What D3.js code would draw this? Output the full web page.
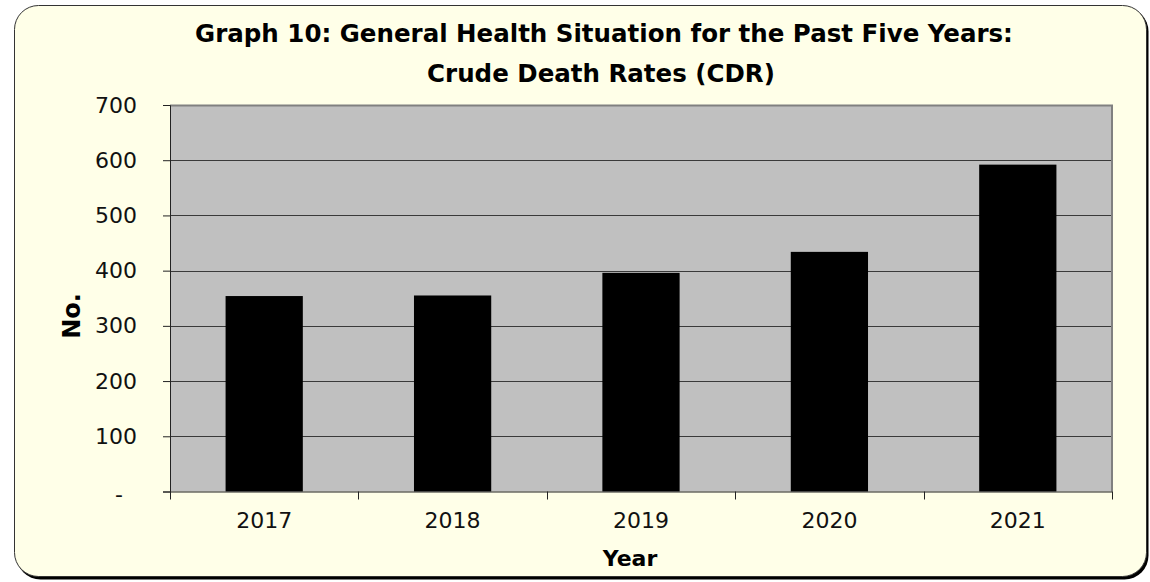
<!DOCTYPE html>
<html>
<head>
<meta charset="utf-8">
<script src="https://cdn.jsdelivr.net/npm/d3@7"></script>
<style>
html,body{margin:0;padding:0;background:#fff;}
svg{display:block;}
text{font-family:"Century Gothic","URW Gothic","DejaVu Sans",sans-serif;}
</style>
</head>
<body>
<svg id="chart" width="1150" height="582"></svg>
<script>
const titleLines = ["Graph 10: General Health Situation for the Past Five Years:", "Crude Death Rates (CDR)"];
const categories = ["2017", "2018", "2019", "2020", "2021"];
const values = [354, 355, 396, 434, 592];
const yTicks = [0, 100, 200, 300, 400, 500, 600, 700];
const yTickLabels = ["-", "100", "200", "300", "400", "500", "600", "700"];
const xAxisTitle = "Year";
const yAxisTitle = "No.";

const svg = d3.select("#chart");

// frame with shadow
svg.append("rect").attr("x", 16.5).attr("y", 7.5).attr("width", 1132).attr("height", 572)
  .attr("rx", 24).attr("fill", "#000");
svg.append("rect").attr("x", 14.5).attr("y", 5.5).attr("width", 1132).attr("height", 571)
  .attr("rx", 24).attr("fill", "#FFFFE8").attr("stroke", "#333").attr("stroke-width", 1);

const m = {left: 170, right: 1112, top: 105, bottom: 491.5};

const x = d3.scaleBand().domain(categories).range([m.left, m.right]).padding(0);
const y = d3.scaleLinear().domain([0, 700]).range([m.bottom, m.top]);

// plot background
svg.append("rect").attr("x", m.left).attr("y", m.top)
  .attr("width", m.right - m.left).attr("height", m.bottom - m.top)
  .attr("fill", "#C0C0C0");

// gridlines
svg.append("g").selectAll("line").data(yTicks.filter(d => d > 0 && d < 700)).join("line")
  .attr("x1", m.left).attr("x2", m.right)
  .attr("y1", d => Math.round(y(d)) + 0.5).attr("y2", d => Math.round(y(d)) + 0.5)
  .attr("stroke", "#3a3a3a").attr("stroke-width", 1);

// plot border (top/right)
svg.append("path")
  .attr("d", `M${m.left},${m.top + 0.5}H${m.right}V${m.bottom}`)
  .attr("fill", "none").attr("stroke", "#808080").attr("stroke-width", 2);

// bars
const barFrac = 0.41;
svg.append("g").selectAll("rect").data(categories).join("rect")
  .attr("x", (d) => x(d) + x.bandwidth() * (1 - barFrac) / 2)
  .attr("width", x.bandwidth() * barFrac)
  .attr("y", (d, i) => y(values[i]))
  .attr("height", (d, i) => y(0) - y(values[i]))
  .attr("fill", "#000");

const tickFont = '"Century Gothic","DejaVu Sans",sans-serif';

// y axis
const yAxis = d3.axisLeft(y).tickValues(yTicks)
  .tickFormat((d, i) => yTickLabels[i]).tickSizeOuter(0).tickSize(7).tickPadding(26);
const gy = svg.append("g").attr("transform", `translate(${m.left},0)`).call(yAxis);
gy.select(".domain").attr("stroke", "#222");
gy.selectAll(".tick line").attr("stroke", "#222");
gy.selectAll(".tick text").attr("font-size", 22).attr("fill", "#111")
  .attr("font-family", tickFont);
gy.selectAll(".tick").filter(d => d === 0).select("text").attr("x", -47).attr("dy", "0.45em");

// x axis
const xAxis = d3.axisBottom(x).tickSize(0).tickPadding(21).tickSizeOuter(0);
const gx = svg.append("g").attr("transform", `translate(0,${m.bottom})`).call(xAxis);
gx.select(".domain").attr("stroke", "#222");
gx.selectAll(".tick text").attr("font-size", 22).attr("fill", "#111")
  .attr("font-family", tickFont);
// boundary ticks
const bounds = categories.map(c => x(c)).concat([x.range()[1]]);
gx.append("g").selectAll("line").data(bounds).join("line")
  .attr("x1", d => Math.round(d) + 0.5).attr("x2", d => Math.round(d) + 0.5)
  .attr("y1", 0).attr("y2", 8).attr("stroke", "#222");

function fitWidth(sel, target) {
  const w = sel.node().getComputedTextLength();
  const fs = parseFloat(sel.attr("font-size"));
  sel.attr("font-size", fs * target / w);
}

// titles
const t1 = svg.append("text").attr("x", 604).attr("y", 42).attr("text-anchor", "middle")
  .attr("font-size", 24).attr("font-weight", "bold").attr("fill", "#000").text(titleLines[0]);
fitWidth(t1, 818);
const fs1 = parseFloat(t1.attr("font-size"));
svg.append("text").attr("x", 601).attr("y", 82).attr("text-anchor", "middle")
  .attr("font-size", fs1).attr("font-weight", "bold").attr("fill", "#000").text(titleLines[1]);

// axis titles
svg.append("text").attr("x", 630).attr("y", 566).attr("text-anchor", "middle")
  .attr("font-size", 22).attr("font-weight", "bold").attr("fill", "#000").text(xAxisTitle);
svg.append("text").attr("transform", "translate(80,316) rotate(-90)").attr("text-anchor", "middle")
  .attr("font-size", 24).attr("font-weight", "bold").attr("fill", "#000").text(yAxisTitle);
</script>
</body>
</html>
